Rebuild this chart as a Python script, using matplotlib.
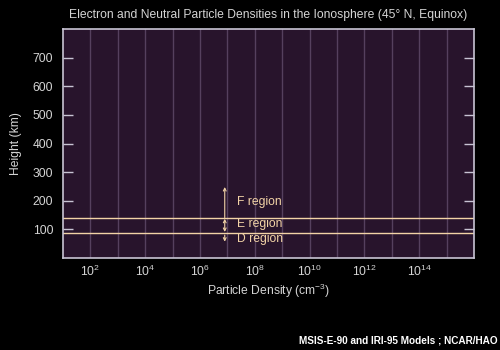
import matplotlib
matplotlib.use("Agg")
import matplotlib.pyplot as plt
import numpy as np

plt.rcParams["font.family"] = ["Liberation Sans", "DejaVu Sans"]
plt.rcParams["mathtext.fontset"] = "custom"
plt.rcParams["mathtext.rm"] = "Liberation Sans"
plt.rcParams["mathtext.it"] = "Liberation Sans"

# data
title = "Electron and Neutral Particle Densities in the Ionosphere (45° N, Equinox)"
x_min, x_max = 1e1, 1e16
y_min, y_max = 0, 800
y_ticks = [100, 200, 300, 400, 500, 600, 700]
grid_exponents = list(range(2, 16))
label_exponents = [2, 4, 6, 8, 10, 12, 14]
boundaries = [141, 87]          # F/E and E/D boundaries (km)
arrow_x = 8e6
f_arrow = (141, 248)
e_arrow = (141, 87)
d_arrow = (80, 57)
region_names = ["F region", "E region", "D region"]
region_heights = [194, 118, 66]

bg = "black"
face = "#28142c"
grid_c = "#55405e"
spine_c = "#c8c4d4"
text_c = "#d4d4d4"
line_c = "#f2d3a6"

fig = plt.figure(figsize=(5, 3.5), dpi=100, facecolor=bg)
ax = fig.add_axes([63 / 500, 1 - 258 / 350, 411 / 500, 229 / 350])
ax.set_facecolor(face)
ax.set_xscale("log")
ax.set_xlim(x_min, x_max)
ax.set_ylim(y_min, y_max)

for e in grid_exponents:
    ax.axvline(10.0 ** e, color=grid_c, lw=1, zorder=1)

for b in boundaries:
    ax.axhline(b, color=line_c, lw=1, zorder=2)

ax.annotate("", xy=(arrow_x, f_arrow[1]), xytext=(arrow_x, f_arrow[0]),
            arrowprops=dict(arrowstyle="->", color=line_c, lw=0.8,
                            shrinkA=0, shrinkB=0, mutation_scale=5))
ax.annotate("", xy=(arrow_x, e_arrow[1] + 4), xytext=(arrow_x, e_arrow[0] - 4),
            arrowprops=dict(arrowstyle="<->", color=line_c, lw=0.8,
                            shrinkA=0, shrinkB=0, mutation_scale=5))
ax.annotate("", xy=(arrow_x, d_arrow[1]), xytext=(arrow_x, d_arrow[0]),
            arrowprops=dict(arrowstyle="->", color=line_c, lw=0.8,
                            shrinkA=0, shrinkB=0, mutation_scale=5))

for name, h in zip(region_names, region_heights):
    ax.text(arrow_x * 2.8, h, name, color=line_c, fontsize=8.7,
            va="center", ha="left")

ax.set_xticks([10.0 ** e for e in label_exponents])
ax.set_xticklabels([r"$10^{%d}$" % e for e in label_exponents])
ax.xaxis.set_minor_locator(matplotlib.ticker.NullLocator())
ax.set_yticks(y_ticks)
ax.tick_params(axis="x", length=0, pad=4, colors=text_c, labelsize=8.7)
ax.tick_params(axis="y", direction="in", length=7, width=1, pad=7,
               colors=spine_c, labelcolor=text_c, labelsize=8.7,
               left=True, right=True)

for s in ax.spines.values():
    s.set_color(spine_c)
    s.set_linewidth(1.2)

ax.set_xlabel("Particle Density (cm$^{\\mathrm{-3}}$)", color=text_c, fontsize=8.7, labelpad=2)
ax.set_ylabel("Height (km)", color=text_c, fontsize=8.7, labelpad=8)
ax.set_title(title, color=text_c, fontsize=8.7, pad=8)

fig.text(0.996, 0.012, "MSIS-E-90 and IRI-95 Models ; NCAR/HAO", color="white",
         fontsize=7.2, fontweight="bold", ha="right", va="bottom")

fig.savefig("out.png", dpi=100, facecolor=bg)
